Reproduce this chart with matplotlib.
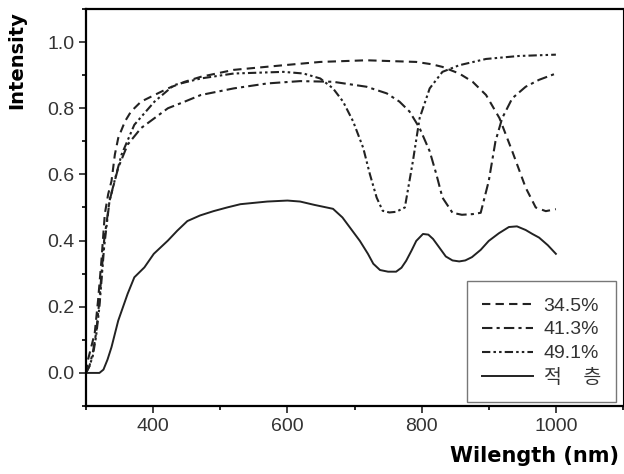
import numpy as np
import matplotlib.pyplot as plt
from matplotlib.ticker import MultipleLocator

# ==== data ====
wl_345 = [300, 303, 308, 313, 318, 323, 328, 333, 338, 343, 348, 358, 367, 382, 402, 422, 447,
          471, 520, 594, 649, 718, 792, 815, 831, 856, 876, 896, 916, 935, 955, 970, 985, 1000]
int_345 = [0.00, 0.04, 0.08, 0.12, 0.22, 0.34, 0.48, 0.54, 0.58, 0.66, 0.71, 0.76, 0.79, 0.82,
           0.84, 0.86, 0.88, 0.895, 0.916, 0.93, 0.94, 0.945, 0.94, 0.933, 0.925, 0.905, 0.88,
           0.84, 0.77, 0.67, 0.56, 0.50, 0.489, 0.495]

wl_413 = [300, 305, 310, 315, 320, 327, 335, 348, 362, 382, 402, 422, 447, 471, 520, 570, 619,
          668, 718, 748, 767, 782, 797, 812, 822, 831, 846, 860, 876, 888, 900, 910, 920, 935,
          955, 975, 1000]
int_413 = [0.00, 0.02, 0.06, 0.12, 0.22, 0.40, 0.52, 0.62, 0.69, 0.74, 0.77, 0.80, 0.82, 0.84,
           0.86, 0.875, 0.882, 0.88, 0.865, 0.845, 0.82, 0.79, 0.74, 0.67, 0.60, 0.53, 0.484,
           0.478, 0.48, 0.484, 0.58, 0.70, 0.77, 0.83, 0.865, 0.886, 0.905]

wl_491 = [300, 305, 310, 315, 320, 327, 335, 345, 353, 372, 402, 431, 471, 520, 594, 624, 649,
          668, 683, 698, 713, 723, 733, 742, 752, 762, 775, 787, 797, 812, 831, 856, 896, 945,
          1000]
int_491 = [0.00, 0.02, 0.05, 0.11, 0.20, 0.38, 0.52, 0.60, 0.66, 0.75, 0.82, 0.87, 0.89, 0.905,
           0.91, 0.905, 0.89, 0.86, 0.82, 0.76, 0.68, 0.60, 0.53, 0.49, 0.485, 0.487, 0.50,
           0.64, 0.77, 0.86, 0.91, 0.93, 0.949, 0.958, 0.962]

wl_stack = [300, 305, 312, 320, 326, 332, 338, 348, 362, 372, 387, 401, 422, 436, 451, 470, 490,
            510, 530, 570, 600, 619, 640, 668, 682, 693, 708, 720, 728, 738, 750, 762, 770, 777,
            785, 792, 802, 810, 817, 826, 836, 846, 856, 865, 875, 888, 900, 915, 930, 942, 955,
            965, 975, 988, 1000]
int_stack = [0.00, 0.00, 0.00, 0.00, 0.01, 0.04, 0.078, 0.158, 0.239, 0.289, 0.319, 0.36, 0.40,
             0.43, 0.459, 0.476, 0.489, 0.50, 0.51, 0.518, 0.521, 0.518, 0.508, 0.496, 0.47,
             0.44, 0.399, 0.36, 0.33, 0.311, 0.306, 0.306, 0.318, 0.339, 0.37, 0.399, 0.42,
             0.418, 0.405, 0.38, 0.352, 0.34, 0.337, 0.34, 0.35, 0.372, 0.399, 0.422, 0.441,
             0.443, 0.432, 0.42, 0.409, 0.386, 0.36]

labels = ['34.5%', '41.3%', '49.1%', '적    층']

plt.rcParams['font.family'] = ['Liberation Sans', 'Noto Sans CJK KR', 'DejaVu Sans']

fig = plt.figure(figsize=(6.24, 4.74), dpi=100)
ax = fig.add_axes([86/624, 1-406/474, (623-86)/624, (406-9)/474])

c = '#222222'
ax.plot(wl_345, int_345, color=c, lw=1.5, ls=(0, (4, 2.5)), label=labels[0])
ax.plot(wl_413, int_413, color=c, lw=1.5, ls=(0, (5, 2, 1.5, 2)), label=labels[1])
ax.plot(wl_491, int_491, color=c, lw=1.5, ls=(0, (4, 1.5, 1.2, 1.5, 1.2, 1.5)), label=labels[2])
ax.plot(wl_stack, int_stack, color=c, lw=1.4, ls='-', label=labels[3])

ax.set_xlim(300, 1100)
ax.set_ylim(-0.1, 1.1)
ax.xaxis.set_minor_locator(MultipleLocator(100))
ax.yaxis.set_minor_locator(MultipleLocator(0.1))
ax.set_xticks([400, 600, 800, 1000])
ax.set_yticks([0.0, 0.2, 0.4, 0.6, 0.8, 1.0])
ax.set_yticklabels(['0.0', '0.2', '0.4', '0.6', '0.8', '1.0'])
ax.tick_params(which='major', direction='out', length=5, width=1.2, labelsize=14,
               colors='#222222', labelcolor='#333333')
ax.tick_params(which='minor', direction='out', length=3, width=1.2)
for side in ['left', 'bottom', 'top']:
    ax.spines[side].set_linewidth(1.6)
ax.spines['right'].set_linewidth(0.8)

leg = ax.legend(loc='lower right', fontsize=14, frameon=True, fancybox=False,
                edgecolor='#555555', handlelength=2.6, borderpad=0.8, labelspacing=0.32,
                handletextpad=0.55, borderaxespad=0.2, bbox_to_anchor=(0.995, 0.0))
leg.get_frame().set_linewidth(1.0)
for t in leg.get_texts():
    t.set_color('#333333')

fig.text(450/624, 1-462/474, 'Wilength (nm)', fontsize=15, fontweight='bold', ha='left',
         va='baseline', family='DejaVu Sans')
fig.text(17/624, 1-60/474, 'Intensity', fontsize=14, fontweight='bold', rotation=90,
         ha='center', va='center', family='DejaVu Sans')

fig.savefig('out.png', dpi=100)
